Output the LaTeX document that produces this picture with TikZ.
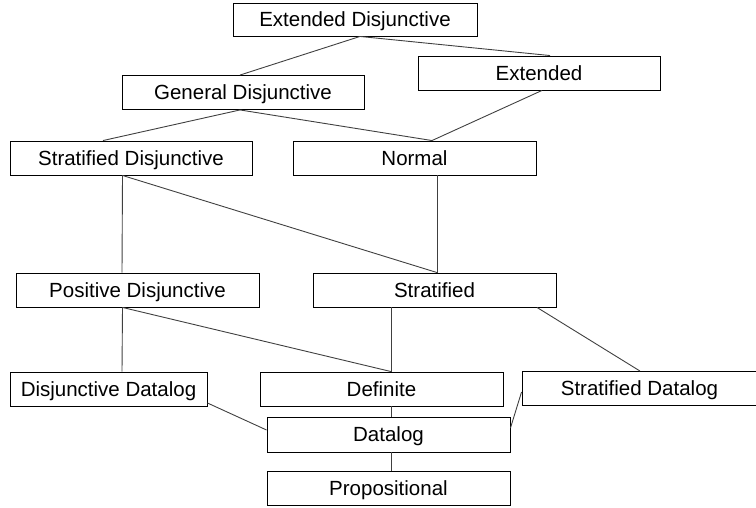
\documentclass[tikz,border=0pt]{standalone}
\usepackage{fontspec}
\setmainfont{Liberation Sans}
\usepackage{tikz}
\usetikzlibrary{positioning}

\begin{document}
\begin{tikzpicture}[x=1pt,y=-1pt,font=\fontsize{20.5}{24}\selectfont]
    \tikzstyle{box}=[rectangle, draw, line width=0.9pt, minimum width=243pt, minimum height=34pt, inner sep=0pt, text height=14.7pt, text depth=0pt]
    \tikzstyle{link}=[draw=black!75, line width=0.9pt]

    \useasboundingbox (0,0) rectangle (756,508);

    \node[box, minimum width=244pt, minimum height=33pt] (ed)  at (355,19.5)   {Extended Disjunctive};
    \node[box, minimum width=242pt]                      (gd)  at (243,92.5)   {General Disjunctive};
    \node[box, minimum width=242pt]                      (ex)  at (539,73)     {Extended};
    \node[box, minimum width=242pt]                      (sd)  at (131,158)    {Stratified Disjunctive};
    \node[box]                                           (no)  at (414.5,158)  {Normal};
    \node[box]                                           (pd)  at (137.5,290)  {Positive Disjunctive};
    \node[box]                                           (st)  at (434.5,290)  {Stratified};
    \node[box, minimum width=197pt]                      (dd)  at (108.5,389)  {Disjunctive Datalog};
    \node[box]                                           (df)  at (381.5,389)  {Definite};
    \node[box, minimum width=235pt]                      (sdl) at (639.5,388.5) {Stratified Datalog};
    \node[box, minimum height=35pt]                      (dl)  at (388.5,434.5) {Datalog};
    \node[box]                                           (pr)  at (388.5,488)  {Propositional};

    \draw[link] ([xshift=5pt]ed.south)   -- ([xshift=-3pt]gd.north);
    \draw[link] ([xshift=5pt]ed.south)   -- ([xshift=11pt]ex.north);
    \draw[link] ([xshift=-3pt]gd.south)  -- ([xshift=-28pt]sd.north);
    \draw[link] ([xshift=-3pt]gd.south)  -- ([xshift=17.5pt]no.north);
    \draw[link] ([xshift=3pt]ex.south)   -- ([xshift=17.5pt]no.north);
    \draw[link] ([xshift=-8.5pt]sd.south)  -- ([xshift=-15.5pt]pd.north);
    \draw[link] ([xshift=-8.5pt]sd.south)  -- ([xshift=2.5pt]st.north);
    \draw[link] ([xshift=22.5pt]no.south) -- ([xshift=2.5pt]st.north);
    \draw[link] ([xshift=-15pt]pd.south) -- ([xshift=13.5pt]dd.north);
    \draw[link] ([xshift=-15pt]pd.south) -- ([xshift=9.5pt]df.north);
    \draw[link] ([xshift=-43.5pt]st.south) -- ([xshift=9.5pt]df.north);
    \draw[link] ([xshift=102.5pt]st.south) -- ([xshift=0.5pt]sdl.north);
    \draw[link] ([yshift=-14pt]dd.east)  -- ([yshift=4.5pt]dl.west);
    \draw[link] ([xshift=9.5pt]df.south) -- ([xshift=2.5pt]dl.north);
    \draw[link] ([yshift=-3.5pt]sdl.west) -- ([yshift=6.5pt]dl.east);
    \draw[link] ([xshift=2.5pt]dl.south) -- ([xshift=2.5pt]pr.north);

\end{tikzpicture}
\end{document}
